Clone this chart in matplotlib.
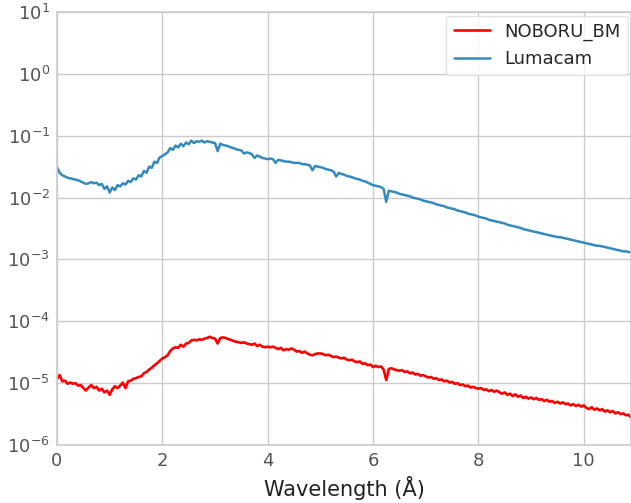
import numpy as np
import matplotlib
matplotlib.use('Agg')
import matplotlib.pyplot as plt

plt.style.use('seaborn-v0_8-whitegrid')
plt.rcParams['font.family'] = ['DejaVu Sans']
plt.rcParams['mathtext.fontset'] = 'dejavusans'

# wavelength grid (Angstrom), 0.05 step
wavelength = np.round(np.arange(219) * 0.05, 2)

# log10 of the intensity, one row per Angstrom
lumacam_log = [
    -1.51, -1.60, -1.64, -1.66, -1.68, -1.69, -1.70, -1.71, -1.72, -1.74,
    -1.76, -1.78, -1.77, -1.75, -1.77, -1.76, -1.80, -1.78, -1.86, -1.82,
    -1.92, -1.84, -1.88, -1.80, -1.82, -1.77, -1.79, -1.73, -1.75, -1.69,
    -1.71, -1.64, -1.66, -1.57, -1.60, -1.50, -1.52, -1.42, -1.44, -1.35,
    -1.33, -1.30, -1.27, -1.20, -1.23, -1.16, -1.19, -1.13, -1.17, -1.11,
    -1.14, -1.08, -1.12, -1.09, -1.10, -1.08, -1.11, -1.09, -1.10, -1.11,
    -1.12, -1.25, -1.13, -1.15, -1.16, -1.17, -1.19, -1.20, -1.22, -1.23,
    -1.24, -1.29, -1.27, -1.28, -1.30, -1.36, -1.32, -1.34, -1.36, -1.37,
    -1.38, -1.37, -1.38, -1.44, -1.39, -1.40, -1.41, -1.42, -1.42, -1.43,
    -1.44, -1.44, -1.44, -1.46, -1.46, -1.47, -1.48, -1.56, -1.49, -1.50,
    -1.51, -1.52, -1.54, -1.55, -1.56, -1.58, -1.66, -1.60, -1.62, -1.63,
    -1.65, -1.66, -1.67, -1.69, -1.70, -1.71, -1.73, -1.74, -1.76, -1.78,
    -1.80, -1.81, -1.82, -1.83, -1.86, -2.07, -1.89, -1.90, -1.91, -1.92,
    -1.94, -1.95, -1.96, -1.97, -1.98, -2.00, -2.01, -2.02, -2.03, -2.05,
    -2.06, -2.07, -2.08, -2.09, -2.11, -2.12, -2.13, -2.14, -2.16, -2.17,
    -2.18, -2.19, -2.21, -2.22, -2.23, -2.24, -2.26, -2.27, -2.28, -2.29,
    -2.31, -2.32, -2.33, -2.34, -2.36, -2.37, -2.38, -2.39, -2.40, -2.41,
    -2.42, -2.44, -2.45, -2.46, -2.47, -2.48, -2.49, -2.51, -2.52, -2.53,
    -2.54, -2.55, -2.56, -2.57, -2.58, -2.59, -2.60, -2.61, -2.62, -2.63,
    -2.64, -2.64, -2.65, -2.66, -2.67, -2.68, -2.69, -2.70, -2.71, -2.72,
    -2.73, -2.74, -2.75, -2.76, -2.77, -2.78, -2.78, -2.79, -2.80, -2.81,
    -2.82, -2.83, -2.84, -2.85, -2.86, -2.87, -2.87, -2.88, -2.89,
]

noboru_log = [
    -4.93, -4.87, -4.97, -4.96, -5.01, -4.99, -5.01, -5.00, -5.04, -5.03,
    -5.08, -5.12, -5.07, -5.03, -5.08, -5.06, -5.12, -5.09, -5.15, -5.12,
    -5.19, -5.10, -5.05, -5.08, -5.04, -4.99, -5.08, -4.97, -4.96, -4.93,
    -4.92, -4.90, -4.89, -4.84, -4.82, -4.78, -4.75, -4.71, -4.68, -4.64,
    -4.60, -4.58, -4.55, -4.48, -4.44, -4.42, -4.43, -4.38, -4.41, -4.36,
    -4.35, -4.31, -4.30, -4.31, -4.29, -4.30, -4.28, -4.27, -4.25, -4.27,
    -4.28, -4.36, -4.27, -4.26, -4.27, -4.29, -4.30, -4.32, -4.33, -4.34,
    -4.35, -4.34, -4.36, -4.37, -4.38, -4.36, -4.40, -4.38, -4.41, -4.42,
    -4.41, -4.42, -4.41, -4.43, -4.45, -4.43, -4.47, -4.45, -4.46, -4.44,
    -4.46, -4.49, -4.48, -4.51, -4.49, -4.52, -4.54, -4.55, -4.53, -4.52,
    -4.52, -4.53, -4.55, -4.54, -4.56, -4.58, -4.57, -4.59, -4.60, -4.59,
    -4.62, -4.63, -4.62, -4.65, -4.66, -4.65, -4.69, -4.68, -4.71, -4.70,
    -4.74, -4.72, -4.74, -4.73, -4.78, -4.95, -4.77, -4.76, -4.78, -4.79,
    -4.80, -4.79, -4.82, -4.81, -4.84, -4.83, -4.86, -4.85, -4.88, -4.87,
    -4.89, -4.91, -4.90, -4.93, -4.92, -4.95, -4.94, -4.97, -4.96, -4.99,
    -4.98, -5.01, -5.00, -5.03, -5.02, -5.05, -5.04, -5.07, -5.06, -5.08,
    -5.09, -5.08, -5.11, -5.10, -5.13, -5.11, -5.14, -5.12, -5.15, -5.17,
    -5.15, -5.19, -5.17, -5.21, -5.18, -5.22, -5.20, -5.24, -5.22, -5.25,
    -5.23, -5.26, -5.24, -5.27, -5.26, -5.29, -5.27, -5.30, -5.29, -5.32,
    -5.30, -5.33, -5.31, -5.34, -5.33, -5.36, -5.34, -5.37, -5.35, -5.38,
    -5.36, -5.40, -5.42, -5.39, -5.43, -5.41, -5.44, -5.42, -5.46, -5.44,
    -5.47, -5.45, -5.49, -5.47, -5.50, -5.49, -5.52, -5.51, -5.56,
]

lumacam = 10.0 ** np.array(lumacam_log)
noboru = 10.0 ** np.array(noboru_log)

fig = plt.figure(figsize=(6.31, 5.03), dpi=100)
ax = fig.add_axes([0.0903, 0.1153, 0.910, 0.861])

ax.plot(wavelength, noboru, color='red', lw=1.9, label='NOBORU_BM')
ax.plot(wavelength, lumacam, color='#348ABD', lw=1.8, label='Lumacam')

ax.set_yscale('log')
ax.set_ylim(1e-6, 1e1)
ax.set_xlim(0, 10.9)
ax.set_xticks([0, 2, 4, 6, 8, 10])
ax.set_yticks([1e-6, 1e-5, 1e-4, 1e-3, 1e-2, 1e-1, 1e0, 1e1])
ax.minorticks_off()

ax.grid(True, color='#cccccc', lw=1.0)
for s in ax.spines.values():
    s.set_color('#cccccc')
    s.set_linewidth(1.2)
ax.tick_params(labelsize=13, labelcolor='#555555', length=0, pad=5)

ax.set_xlabel('Wavelength (Å)', fontsize=15, color='#222222')
leg = ax.legend(loc='upper right', fontsize=13, frameon=True,
                framealpha=0.8, borderaxespad=0.2)
leg.get_frame().set_edgecolor('#dddddd')

fig.savefig('out.png', dpi=100)
